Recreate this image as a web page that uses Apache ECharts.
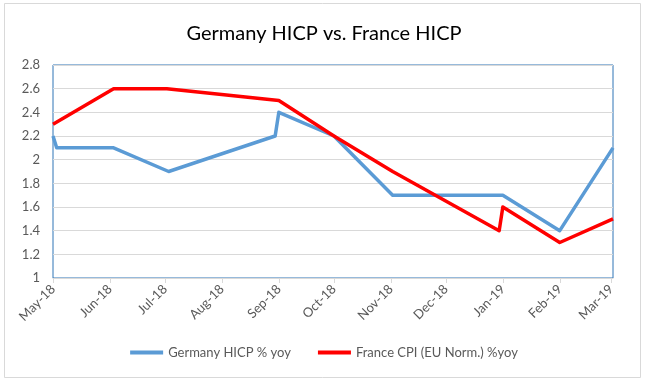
<!DOCTYPE html>
<html>
<head>
<meta charset="utf-8">
<script src="https://cdn.jsdelivr.net/npm/echarts@6/dist/echarts.min.js"></script>
<style>
html,body{margin:0;padding:0;background:#fff;}
#c{width:648px;height:383px;}
</style>
</head>
<body>
<div id="c"></div>
<script>
// ---- data ----
var germanyDates = ['2018-05-01','2018-05-03','2018-06-03','2018-07-03','2018-08-30','2018-09-01','2018-10-01','2018-11-02','2019-01-01','2019-02-01','2019-03-02'];
var germanyValues = [2.2, 2.1, 2.1, 1.9, 2.2, 2.4, 2.2, 1.7, 1.7, 1.4, 2.1];
var franceDates = ['2018-05-01','2018-06-03','2018-07-02','2018-09-01','2018-10-01','2018-11-02','2018-12-30','2019-01-01','2019-02-01','2019-03-02'];
var franceValues = [2.3, 2.6, 2.6, 2.5, 2.2, 1.9, 1.4, 1.6, 1.3, 1.5];
var tickDates = ['2018-05-01','2018-06-01','2018-07-01','2018-08-01','2018-09-01','2018-10-01','2018-11-01','2018-12-01','2019-01-01','2019-02-01','2019-03-01'];
var tickLabels = ['May-18','Jun-18','Jul-18','Aug-18','Sep-18','Oct-18','Nov-18','Dec-18','Jan-19','Feb-19','Mar-19'];
var seriesNames = ['Germany HICP % yoy', 'France CPI (EU Norm.) %yoy'];
var titleText = 'Germany HICP vs. France HICP';

// day number since 2018-05-01 (UTC based, timezone independent)
var DAY = 86400000;
var BASE = Date.UTC(2018, 4, 1);
function dn(s){ var p = s.split('-'); return Math.round((Date.UTC(+p[0], +p[1]-1, +p[2]) - BASE) / DAY); }
var tickDays = tickDates.map(dn);
var labelMap = {};
tickDays.forEach(function(t,i){ labelMap[t] = tickLabels[i]; });

function pairs(d, v){ return d.map(function(x,i){ return [dn(x), v[i]]; }); }

var chart = echarts.init(document.getElementById('c'), null, {renderer:'canvas'});
var font = 'Lato, "Open Sans", sans-serif';
chart.setOption({
  animation: false,
  backgroundColor: '#fff',
  title: {
    text: titleText, left: 'center', top: 19,
    textStyle: {fontFamily: font, fontSize: 20, fontWeight: 'normal', color: '#000'}
  },
  graphic: [{
    type: 'rect', shape: {x: 4.5, y: 3.5, width: 636, height: 374},
    style: {fill: 'none', stroke: '#D9D9D9', lineWidth: 1}, silent: true, z: -1
  }],
  legend: {
    bottom: 19, left: 'center', itemGap: 27, itemWidth: 33, itemHeight: 4,
    icon: 'rect',
    textStyle: {fontFamily: font, fontSize: 13, color: '#595959'},
    data: seriesNames
  },
  grid: {
    left: 53, right: 35, top: 65, bottom: 105,
    show: true, borderColor: '#2E75B6', borderWidth: 1
  },
  xAxis: {
    type: 'value',
    min: dn('2018-05-01'), max: dn('2019-03-02'),
    axisLine: {show: true, lineStyle: {color: '#D9D9D9'}},
    axisTick: {show: true, length: 5, lineStyle: {color: '#D9D9D9'}, customValues: tickDays},
    splitLine: {show: false},
    axisLabel: {
      customValues: tickDays, rotate: 45, color: '#595959',
      fontFamily: font, fontSize: 13, margin: 9,
      formatter: function(v){ return labelMap[v] || ''; }
    }
  },
  yAxis: {
    type: 'value', min: 1, max: 2.8, interval: 0.2,
    axisLine: {show: false}, axisTick: {show: false},
    splitLine: {lineStyle: {color: '#D9D9D9'}},
    axisLabel: {color: '#595959', fontFamily: font, fontSize: 13, margin: 13,
      formatter: function(v){ return String(Math.round(v*10)/10); }}
  },
  series: [
    {name: seriesNames[0], type: 'line', data: pairs(germanyDates, germanyValues),
     showSymbol: false, symbol: 'none', color: '#5B9BD5',
     lineStyle: {width: 3.5, color: '#5B9BD5', join: 'round'}, z: 2},
    {name: seriesNames[1], type: 'line', data: pairs(franceDates, franceValues),
     showSymbol: false, symbol: 'none', color: '#FF0000',
     lineStyle: {width: 3.5, color: '#FF0000', join: 'round'}, z: 3}
  ]
});
</script>
</body>
</html>
